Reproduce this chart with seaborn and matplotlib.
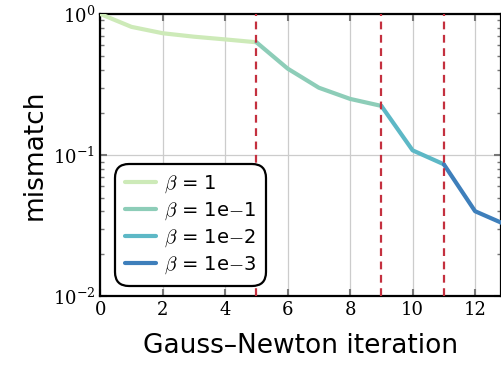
import numpy as np
import matplotlib
matplotlib.use("Agg")
import matplotlib.pyplot as plt
import seaborn as sns
import pandas as pd

# mismatch por iteração de Gauss-Newton
iteracoes = [0, 1, 2, 3, 4, 5, 6, 7, 8, 9, 10, 11, 12, 13]
mismatch = [1.0, 0.81, 0.73, 0.69, 0.66, 0.63, 0.41, 0.30, 0.25, 0.223, 0.108, 0.086, 0.040, 0.032]
# troca de beta nas iterações
trocas = [5, 9, 11]
betas = [r"$\beta$ = 1", r"$\beta$ = 1e$-$1", r"$\beta$ = 1e$-$2", r"$\beta$ = 1e$-$3"]
cores = ["#cdeab8", "#8dcdb8", "#5db8c6", "#3e7fbb"]

sns.set_theme(style="ticks")
plt.rcParams["font.family"] = ["DejaVu Sans"]
plt.rcParams["mathtext.fontset"] = "cm"
for k in ["text.color", "axes.labelcolor", "xtick.labelcolor", "ytick.labelcolor"]:
    plt.rcParams[k] = "black"

fig, ax = plt.subplots(figsize=(5.01, 3.67), dpi=100)
fig.subplots_adjust(left=0.2, right=1.0, top=0.962, bottom=0.193)

limites = [0] + trocas + [len(iteracoes) - 1]
for i in range(4):
    a, b = limites[i], limites[i + 1]
    tabela = pd.DataFrame({"it": iteracoes[a:b + 1], "m": mismatch[a:b + 1]})
    sns.lineplot(data=tabela, x="it", y="m", ax=ax, color=cores[i], lw=3,
                 label=betas[i], zorder=3)

for t in trocas:
    ax.axvline(t, color="#c4303f", ls=(0, (3.5, 2.5)), lw=1.6, zorder=4)

ax.set_yscale("log")
ax.set_ylim(1e-2, 1)
ax.set_xlim(0, 12.83)
ax.set_xticks(range(0, 13, 2))
ax.grid(True, which="major", color="#cccccc", lw=0.9)
ax.tick_params(which="both", direction="in", color="#777777", top=True, right=True)
ax.tick_params(which="major", length=5, width=1.5)
ax.tick_params(which="minor", length=3, width=1)
for lab in ax.get_xticklabels() + ax.get_yticklabels():
    lab.set_fontfamily("serif")
    lab.set_fontsize(13)
for s in ax.spines.values():
    s.set_linewidth(1.6)
    s.set_color("black")

ax.set_xlabel("Gauss–Newton iteration", fontsize=19, labelpad=10)
ax.set_ylabel("mismatch", fontsize=19)

leg = ax.legend(loc="lower left", bbox_to_anchor=(0.047, 0.05), fontsize=14,
                frameon=True, fancybox=True, handlelength=1.6, borderpad=0.3,
                labelspacing=0.28, handletextpad=0.4, borderaxespad=0)
leg.get_frame().set_edgecolor("black")
leg.get_frame().set_linewidth(1.6)
leg.get_frame().set_alpha(1)
leg.get_frame().set_boxstyle("round,pad=0.2,rounding_size=0.7")

plt.savefig("out.png", dpi=100)
